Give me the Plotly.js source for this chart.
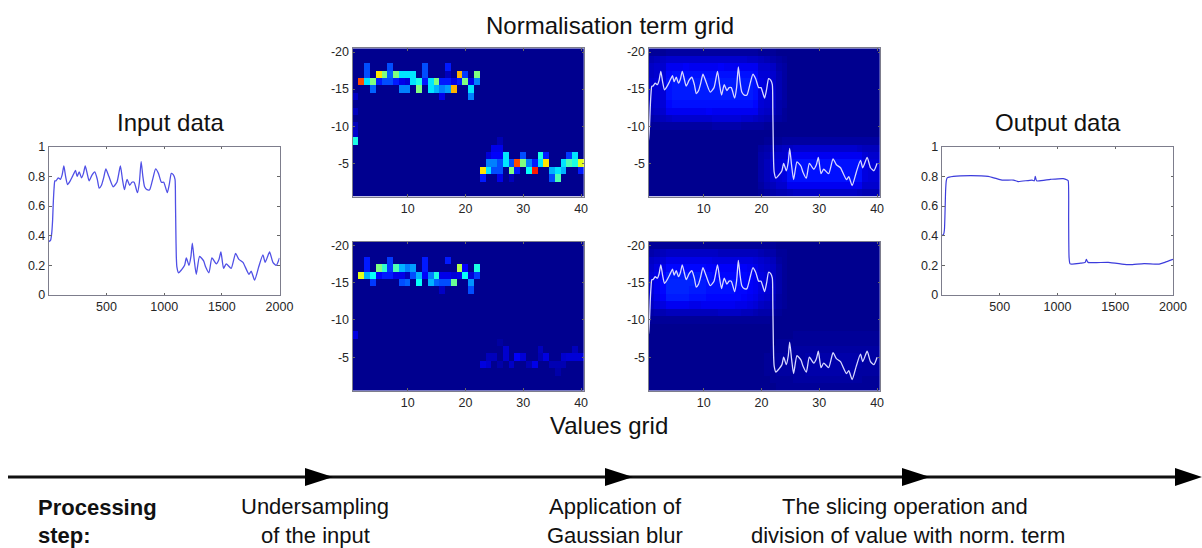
<!DOCTYPE html>
<html>
<head>
<meta charset="utf-8">
<script src="https://cdn.plot.ly/plotly-3.0.1.min.js"></script>
<style>html,body{margin:0;padding:0;background:#fff}#chart{width:1202px;height:548px}</style>
</head>
<body>
<div id="chart"></div>
<script>
// ---------- line data ----------
const inputX = [1,15,25,32,38,45,52,62,81,100,115,130,145,162,185,205,231,245,263,283,300,315,332,349,375,398,420,436,456,475,494,520,557,590,620,638,655,678,701,720,739,768,785,800,815,830,851,874,900,926,950,976,996,1027,1045,1062,1080,1094,1098,1101,1105,1110,1125,1150,1177,1192,1215,1232,1244,1260,1278,1307,1342,1359,1388,1414,1452,1475,1492,1515,1538,1581,1619,1648,1683,1735,1755,1784,1820,1856,1876,1914,1943,1972,2000];
const inputV = [0.36,0.37,0.42,0.50,0.62,0.72,0.77,0.77,0.79,0.78,0.81,0.87,0.80,0.745,0.77,0.80,0.84,0.80,0.83,0.79,0.82,0.87,0.82,0.77,0.81,0.83,0.78,0.72,0.74,0.79,0.85,0.80,0.73,0.76,0.87,0.78,0.71,0.78,0.74,0.76,0.76,0.69,0.76,0.90,0.80,0.73,0.71,0.71,0.78,0.85,0.82,0.76,0.76,0.69,0.75,0.82,0.81,0.78,0.62,0.44,0.26,0.19,0.15,0.17,0.20,0.25,0.20,0.26,0.35,0.24,0.14,0.26,0.23,0.19,0.15,0.25,0.21,0.24,0.29,0.18,0.21,0.18,0.28,0.24,0.22,0.14,0.16,0.10,0.19,0.27,0.22,0.29,0.22,0.20,0.25];
const outputX = [1,15,22,27,32,38,46,100,250,400,450,520,620,660,780,800,808,820,940,1050,1085,1093,1097,1101,1110,1200,1240,1250,1265,1440,1600,1650,1750,1880,1930,2000];
const outputV = [0.40,0.41,0.44,0.55,0.70,0.77,0.79,0.80,0.805,0.80,0.79,0.775,0.775,0.765,0.775,0.77,0.80,0.77,0.78,0.785,0.775,0.77,0.50,0.25,0.21,0.215,0.22,0.24,0.22,0.22,0.205,0.205,0.212,0.208,0.22,0.24];

// ---------- grid axes ----------
const gridCols = [1,2,3,4,5,6,7,8,9,10,11,12,13,14,15,16,17,18,19,20,21,22,23,24,25,26,27,28,29,30,31,32,33,34,35,36,37,38,39,40];
const gridRows = [-20,-19,-18,-17,-16,-15,-14,-13,-12,-11,-10,-9,-8,-7,-6,-5,-4,-3,-2,-1];

// ---------- undersampled grids: occupied cells ----------
const normCol = [1,1,1,1,1,2,3,3,3,4,4,5,5,6,6,7,7,7,8,8,9,9,9,10,10,10,11,11,12,12,13,13,13,14,14,15,15,16,16,16,17,17,17,17,18,18,19,19,20,20,21,21,21,22,22,
  23,23,24,24,24,25,25,25,25,26,26,26,26,26,26,27,27,28,28,28,29,29,30,30,31,31,32,32,33,33,34,34,35,35,36,36,37,37,38,38,39,39,40,40];
const normRow = [-14,-12,-10,-9,-8,-16,-18,-17,-16,-16,-15,-17,-16,-17,-16,-18,-17,-16,-17,-16,-17,-16,-15,-17,-16,-15,-17,-16,-16,-15,-18,-17,-16,-16,-15,-16,-15,-16,-15,-14,-18,-17,-16,-15,-16,-15,-17,-16,-17,-16,-16,-15,-14,-17,-16,
  -4,-3,-5,-4,-6,-7,-6,-5,-4,-8,-7,-6,-5,-4,-3,-6,-5,-5,-4,-3,-5,-4,-6,-5,-5,-4,-5,-4,-6,-5,-6,-5,-4,-3,-4,-3,-5,-4,-6,-5,-6,-5,-5,-4];
const normVal = [0.06,0.05,0.05,0.07,0.40,0.80,0.20,0.20,0.35,0.50,0.22,0.65,0.15,0.50,0.20,0.20,0.22,0.20,0.50,0.15,0.35,0.10,0.25,0.35,0.08,0.25,0.35,0.35,0.40,0.50,0.20,0.20,0.15,0.35,0.35,0.50,0.30,0.15,0.25,0.10,0.15,0.05,0.15,0.28,0.10,0.70,0.70,0.15,0.18,0.50,0.10,0.35,0.25,0.50,0.25,
  0.65,0.15,0.25,0.35,0.08,0.10,0.12,0.25,0.20,0.04,0.10,0.12,0.20,0.20,0.10,0.35,0.35,0.20,0.50,0.05,0.80,0.15,0.20,0.50,0.25,0.38,0.15,0.85,0.40,0.35,0.15,0.65,0.30,0.20,0.35,0.45,0.35,0.30,0.18,0.45,0.35,0.40,0.60,0.15];
const valCol = [1,2,3,3,3,4,4,5,5,6,6,7,7,7,8,8,9,9,9,10,10,10,11,11,12,12,13,13,13,14,14,15,15,16,16,16,17,17,17,18,18,19,19,20,20,21,21,21,22,22,
  23,24,24,25,26,26,27,27,28,29,30,31,32,33,33,34,35,36,36,37,37,38,39,39,40];
const valRow = [-8,-16,-18,-17,-16,-16,-15,-17,-16,-17,-16,-18,-17,-16,-17,-16,-17,-16,-15,-17,-16,-15,-17,-16,-16,-15,-18,-17,-16,-16,-15,-16,-15,-16,-15,-14,-18,-16,-15,-16,-15,-17,-16,-17,-16,-16,-15,-14,-17,-16,
  -4,-5,-4,-5,-7,-4,-6,-5,-4,-5,-5,-4,-4,-6,-5,-5,-4,-4,-3,-5,-4,-5,-6,-5,-5];
const valVal = [0.09,0.60,0.15,0.15,0.30,0.38,0.18,0.50,0.12,0.42,0.15,0.18,0.18,0.15,0.45,0.10,0.30,0.10,0.20,0.25,0.05,0.22,0.28,0.20,0.30,0.38,0.15,0.15,0.12,0.25,0.30,0.40,0.22,0.10,0.20,0.06,0.15,0.10,0.20,0.08,0.48,0.55,0.10,0.12,0.38,0.08,0.27,0.20,0.40,0.18,
  0.09,0.05,0.07,0.05,0.02,0.03,0.07,0.07,0.06,0.12,0.08,0.04,0.10,0.05,0.04,0.09,0.04,0.04,0.03,0.07,0.04,0.08,0.05,0.08,0.08];

// ---------- blurred grids (hundredths of the colour range), rows -20 to -1 ----------
const normBlur = [
 [1,1,1,2,2,2,2,2,2,2,2,2,2,2,2,2,2,2,2,1,1,1,0,0,0,0,0,0,0,0,0,0,0,0,0,0,0,0,0,0],
 [4,5,6,7,7,7,7,7,7,7,7,7,7,7,7,7,7,6,6,5,4,3,2,1,0,0,0,0,0,0,0,0,0,0,0,0,0,0,0,0],
 [6,7,7,11,11,11,12,11,11,11,11,11,12,11,11,11,11,11,11,7,7,6,3,2,0,0,0,0,0,0,0,0,0,0,0,0,0,0,0,0],
 [6,7,8,13,14,14,14,14,14,14,14,14,14,14,14,14,14,14,13,8,8,7,4,2,0,0,0,0,0,0,0,0,0,0,0,0,0,0,0,0],
 [7,8,8,14,15,15,15,15,15,15,15,15,15,15,15,15,15,15,14,9,8,7,4,2,0,0,0,0,0,0,0,0,0,0,0,0,0,0,0,0],
 [7,8,8,14,15,15,15,15,15,15,15,15,15,15,15,15,15,15,14,9,8,7,4,2,0,0,0,0,0,0,0,0,0,0,0,0,0,0,0,0],
 [7,8,8,14,15,15,15,15,15,15,15,15,15,15,15,15,15,15,14,9,8,7,4,2,0,0,0,0,0,0,0,0,0,0,0,0,0,0,0,0],
 [6,7,8,13,14,14,14,14,14,14,14,14,14,14,14,14,14,14,13,8,7,6,3,2,0,0,0,0,0,0,0,0,0,0,0,0,0,0,0,0],
 [5,6,7,11,11,11,11,11,11,11,12,11,11,11,11,11,11,11,11,7,6,5,3,1,0,0,0,0,0,0,0,0,0,0,0,0,0,0,0,0],
 [3,4,5,6,7,7,7,7,7,7,7,8,8,8,8,8,7,7,6,5,4,3,2,1,0,0,0,0,0,0,0,0,0,0,0,0,0,0,0,0],
 [1,1,2,2,2,2,2,2,2,2,2,3,3,3,3,3,2,2,2,2,1,1,0,0,0,0,0,0,0,0,0,0,0,0,0,0,0,0,0,0],
 [0,0,0,0,0,0,0,0,0,0,0,0,0,0,0,0,0,0,0,0,0,0,0,0,0,0,0,0,0,0,0,0,0,0,0,0,0,0,0,0],
 [0,0,0,0,0,0,0,0,0,0,0,0,0,0,0,0,0,0,0,0,1,1,1,2,2,2,2,2,2,2,2,2,2,2,2,2,2,2,2,2],
 [0,0,0,0,0,0,0,0,0,0,0,0,0,0,0,0,0,0,0,2,3,4,5,6,6,7,7,7,7,7,7,7,7,7,7,7,6,5,5,5],
 [0,0,0,0,0,0,0,0,0,0,0,0,0,0,0,0,0,0,0,3,4,6,7,7,11,11,11,11,11,11,11,11,11,11,11,11,11,8,7,7],
 [0,0,0,0,0,0,0,0,0,0,0,0,0,0,0,0,0,0,0,3,5,7,8,9,14,14,14,14,14,14,14,14,14,14,14,14,14,9,8,8],
 [0,0,0,0,0,0,0,0,0,0,0,0,0,0,0,0,0,0,0,3,5,7,8,9,14,14,14,14,14,14,14,14,14,14,14,14,14,9,8,8],
 [0,0,0,0,0,0,0,0,0,0,0,0,0,0,0,0,0,0,0,3,5,7,8,9,14,14,14,14,14,14,14,14,14,14,14,14,14,9,8,8],
 [0,0,0,0,0,0,0,0,0,0,0,0,0,0,0,0,0,0,0,2,4,5,7,7,11,11,11,11,11,11,11,11,11,11,11,11,11,7,7,7],
 [0,0,0,0,0,0,0,0,0,0,0,0,0,0,0,0,0,0,0,1,2,3,4,4,5,6,6,6,6,6,6,6,6,6,6,6,5,4,4,4]
];
const valBlur = [
 [1,1,1,1,1,1,1,1,1,1,1,1,1,1,1,1,1,1,1,1,1,1,0,0,0,0,0,0,0,0,0,0,0,0,0,0,0,0,0,0],
 [3,4,5,6,6,6,6,6,6,6,6,6,5,5,5,5,5,5,5,4,3,3,1,1,0,0,0,0,0,0,0,0,0,0,0,0,0,0,0,0],
 [6,7,8,10,10,10,10,10,10,10,10,9,9,9,9,9,9,9,8,7,6,5,2,1,0,0,0,0,0,0,0,0,0,0,0,0,0,0,0,0],
 [7,9,10,13,13,13,13,13,13,13,12,12,12,12,12,12,12,11,10,8,7,6,3,1,0,0,0,0,0,0,0,0,0,0,0,0,0,0,0,0],
 [8,10,12,15,15,15,15,15,15,14,14,13,13,13,13,13,13,12,11,9,8,6,3,1,0,0,0,0,0,0,0,0,0,0,0,0,0,0,0,0],
 [8,11,13,16,16,16,16,16,15,15,14,14,14,14,14,14,13,12,11,9,8,6,3,1,0,0,0,0,0,0,0,0,0,0,0,0,0,0,0,0],
 [8,11,13,16,16,16,16,15,15,15,14,14,14,14,14,13,13,12,11,9,8,6,3,1,0,0,0,0,0,0,0,0,0,0,0,0,0,0,0,0],
 [7,10,12,15,15,15,15,14,14,14,13,13,13,13,13,13,12,11,10,8,7,5,2,1,0,0,0,0,0,0,0,0,0,0,0,0,0,0,0,0],
 [6,8,9,11,11,11,11,10,10,11,11,11,11,11,11,10,10,9,8,6,5,4,2,1,0,0,0,0,0,0,0,0,0,0,0,0,0,0,0,0],
 [3,4,4,5,5,5,5,5,5,5,5,5,6,6,6,6,5,5,4,3,3,2,1,0,0,0,0,0,0,0,0,0,0,0,0,0,0,0,0,0],
 [1,1,1,1,1,1,1,1,1,1,1,1,1,1,1,1,1,1,1,1,1,0,0,0,0,0,0,0,0,0,0,0,0,0,0,0,0,0,0,0],
 [0,0,0,0,0,0,0,0,0,0,0,0,0,0,0,0,0,0,0,0,0,0,0,0,0,0,0,0,0,0,0,0,0,0,0,0,0,0,0,0],
 [0,0,0,0,0,0,0,0,0,0,0,0,0,0,0,0,0,0,0,0,0,0,0,0,0,1,1,1,1,1,1,1,1,1,1,1,1,1,1,1],
 [0,0,0,0,0,0,0,0,0,0,0,0,0,0,0,0,0,0,0,0,0,0,1,1,1,1,1,1,1,1,1,1,1,1,1,1,1,1,1,1],
 [0,0,0,0,0,0,0,0,0,0,0,0,0,0,0,0,0,0,0,0,0,1,1,1,2,2,2,2,2,2,2,2,2,2,2,2,2,2,2,2],
 [0,0,0,0,0,0,0,0,0,0,0,0,0,0,0,0,0,0,0,0,1,1,2,2,2,2,2,3,3,3,3,3,3,3,3,3,3,2,2,2],
 [0,0,0,0,0,0,0,0,0,0,0,0,0,0,0,0,0,0,0,0,1,1,2,2,2,2,3,3,3,3,3,3,3,3,3,3,3,2,2,2],
 [0,0,0,0,0,0,0,0,0,0,0,0,0,0,0,0,0,0,0,0,1,1,2,2,2,2,2,3,3,3,3,3,3,3,3,3,2,2,2,2],
 [0,0,0,0,0,0,0,0,0,0,0,0,0,0,0,0,0,0,0,0,0,1,1,1,1,2,2,2,2,2,2,2,2,2,2,2,2,1,1,1],
 [0,0,0,0,0,0,0,0,0,0,0,0,0,0,0,0,0,0,0,0,0,0,1,1,1,1,1,1,1,1,1,1,1,1,1,1,1,1,1,1]
];

// ---------- ticks and texts ----------
const lineXTicks = [500,1000,1500,2000];
const lineYTicks = [0,0.2,0.4,0.6,0.8,1];
const lineYLabels = ['0','0.2','0.4','0.6','0.8','1'];
const gridXTicks = [10,20,30,40];
const gridYTicks = [-20,-15,-10,-5];
const gridYLabels = ['-20','-15','-10','-5'];

// ---------- page geometry ----------
const W = 1202, H = 548;
const px = v => v / W, py = v => 1 - v / H;
const TXT = '#262626', FRAME = '#7d7d8c', FAM = 'Liberation Sans, Arial, sans-serif';
const JET = [[0,'rgb(0,0,143)'],[0.125,'rgb(0,0,255)'],[0.375,'rgb(0,255,255)'],[0.625,'rgb(255,255,0)'],[0.875,'rgb(255,0,0)'],[1,'rgb(128,0,0)']];

function sparseGrid(cols, rows, vals) {
  const z = gridRows.map(() => gridCols.map(() => 0));
  cols.forEach((c, i) => { z[gridRows.indexOf(rows[i])][gridCols.indexOf(c)] = vals[i]; });
  return z;
}
function axisBase(box, isX) {
  return {
    domain: isX ? [px(box[0]), px(box[1])] : [py(box[3]), py(box[2])],
    showgrid: false, zeroline: false, showline: true, mirror: 'allticks',
    linecolor: FRAME, linewidth: 1.2, ticks: 'inside', ticklen: 2.5, tickcolor: '#666',
    tickfont: {family: FAM, size: 12.5, color: TXT}, ticklabelstandoff: 0, fixedrange: true
  };
}
const lineBoxes = [[49, 279.5, 146.7, 295], [942, 1173, 146.7, 295]];
const gridBoxes = [[352.7, 584, 48.3, 196.7], [352.7, 584, 241.7, 390.7], [648.7, 880, 48.3, 196.7], [648.7, 880, 241.7, 390.7]];

const layout = {
  width: W, height: H, margin: {l:0, r:0, t:0, b:0, pad:0},
  paper_bgcolor: '#fff', plot_bgcolor: '#fff', showlegend: false, annotations: [], shapes: []
};
const traces = [];

lineBoxes.forEach((box, i) => {
  const n = i + 1;
  layout['xaxis' + n] = Object.assign(axisBase(box, true), {anchor: 'y' + n, range: [1, 2000], tickmode: 'array', tickvals: lineXTicks, ticktext: lineXTicks.map(String)});
  layout['yaxis' + n] = Object.assign(axisBase(box, false), {anchor: 'x' + n, range: [0, 1], tickmode: 'array', tickvals: lineYTicks, ticktext: lineYLabels});
  traces.push({type: 'scatter', mode: 'lines', x: i ? outputX : inputX, y: i ? outputV : inputV, xaxis: 'x' + n, yaxis: 'y' + n,
    line: {color: i ? '#3c3cdc' : '#5050e6', width: i ? 1.2 : 1.3, shape: 'spline', smoothing: 0.55}, hoverinfo: 'skip'});
});

const gridZ = [sparseGrid(normCol, normRow, normVal), sparseGrid(valCol, valRow, valVal), normBlur, valBlur];
const gridMax = [1, 1, 100, 100];
gridBoxes.forEach((box, i) => {
  const n = i + 3;
  layout['xaxis' + n] = Object.assign(axisBase(box, true), {anchor: 'y' + n, range: [0.5, 40.5], tickmode: 'array', tickvals: gridXTicks, ticktext: gridXTicks.map(String)});
  layout['yaxis' + n] = Object.assign(axisBase(box, false), {anchor: 'x' + n, range: [-0.5, -20.5], tickmode: 'array', tickvals: gridYTicks, ticktext: gridYLabels});
  traces.push({type: 'heatmap', x: gridCols, y: gridRows, z: gridZ[i], zmin: 0, zmax: gridMax[i], colorscale: JET, showscale: false, xaxis: 'x' + n, yaxis: 'y' + n, hoverinfo: 'skip'});
  if (i >= 2) {
    // the input signal drawn over the blurred grid: 2000 samples span 40 columns, value 1 spans 20 rows
    traces.push({type: 'scatter', mode: 'lines', x: inputX.map(v => v / 50), y: inputV.map(v => -20 * v), xaxis: 'x' + n, yaxis: 'y' + n,
      line: {color: '#d8d8ff', width: 1.3, shape: 'spline', smoothing: 0.55}, hoverinfo: 'skip'});
  }
});

const notes = [
  ['Normalisation term grid', 609.5, 25, 24, 'center', false],
  ['Input data', 170, 122, 24, 'center', false],
  ['Output data', 1058, 122, 24, 'center', false],
  ['Values grid', 609, 425, 24, 'center', false],
  ['Processing', 36, 507, 22, 'left', true],
  ['step:', 36, 535, 22, 'left', true],
  ['Undersampling', 315, 506, 22, 'center', false],
  ['of the input', 315, 535, 22, 'center', false],
  ['Application of', 615, 506, 22, 'center', false],
  ['Gaussian blur', 615, 535, 22, 'center', false],
  ['The slicing operation and', 905, 506, 22, 'center', false],
  ['division of value with norm. term', 908, 535, 22, 'center', false]
];
notes.forEach(([text, x, y, size, align, bold]) => {
  layout.annotations.push({text: bold ? '<b>' + text + '</b>' : text, xref: 'paper', yref: 'paper', x: px(x), y: py(y),
    xanchor: align, yanchor: 'middle', showarrow: false, font: {family: FAM, size, color: '#111'}});
});

// process timeline
const arrowY = 477;
layout.shapes.push({type: 'line', xref: 'paper', yref: 'paper', x0: px(8), x1: px(1180), y0: py(arrowY), y1: py(arrowY), line: {color: '#111', width: 3}});
[[305, 333], [605, 633], [902, 930], [1175, 1202]].forEach(([a, b]) => {
  layout.shapes.push({type: 'path', xref: 'paper', yref: 'paper', fillcolor: '#000', line: {width: 0},
    path: `M ${px(a)} ${py(arrowY - 9)} L ${px(b)} ${py(arrowY)} L ${px(a)} ${py(arrowY + 9)} Z`});
});

Plotly.newPlot('chart', traces, layout, {displayModeBar: false, staticPlot: true});
</script>
</body>
</html>
